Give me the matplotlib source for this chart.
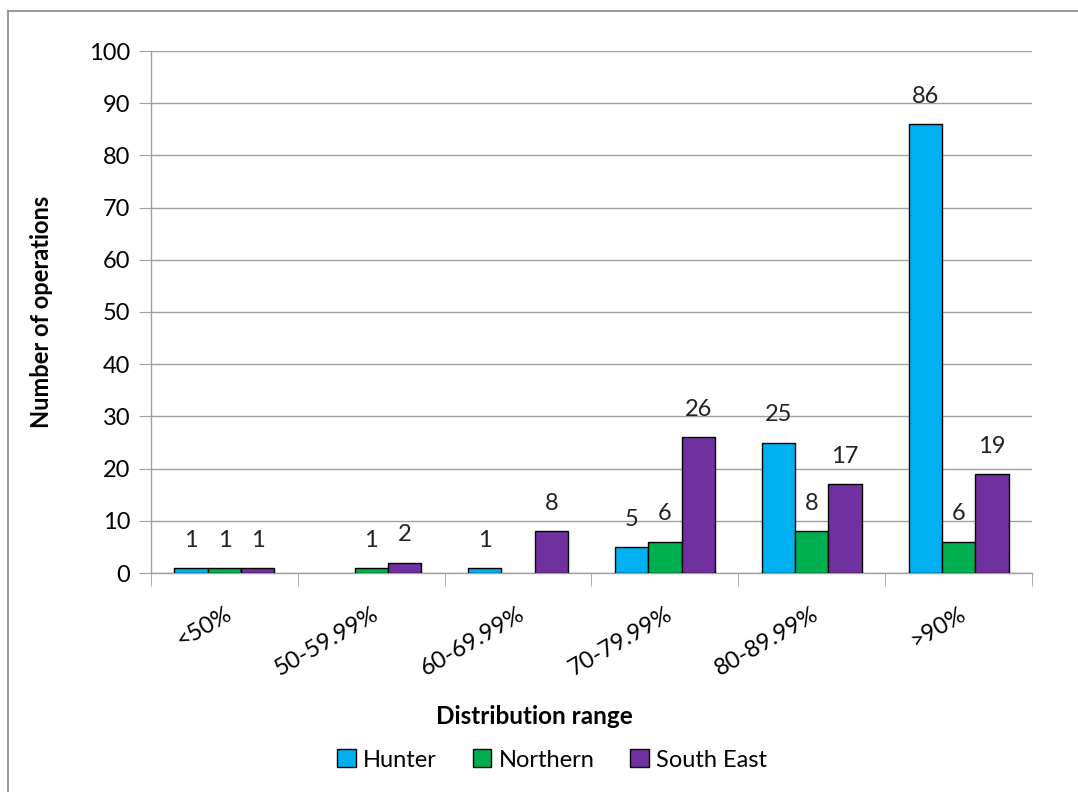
import matplotlib
matplotlib.use("Agg")
import matplotlib.pyplot as plt
import numpy as np

categories = ["<50%", "50-59.99%", "60-69.99%", "70-79.99%", "80-89.99%", ">90%"]
series_names = ["Hunter", "Northern", "South East"]
hunter = [1, 0, 1, 5, 25, 86]
northern = [1, 1, 0, 6, 8, 6]
south_east = [1, 2, 8, 26, 17, 19]
colors = ["#00B0F0", "#00B050", "#7030A0"]

plt.rcParams["font.family"] = ["Lato", "DejaVu Sans"]

fig = plt.figure(figsize=(10.78, 7.92), dpi=100)
ax = fig.add_axes([151 / 1078, 1 - 573 / 792, (1032 - 151) / 1078, (573 - 51) / 792])

x = np.arange(len(categories))
w = 0.227
for i, (vals, name, c) in enumerate(zip([hunter, northern, south_east], series_names, colors)):
    pos = x + (i - 1) * w
    # zero values are not drawn in the original chart
    heights = [v if v > 0 else np.nan for v in vals]
    ax.bar(pos, heights, width=w, color=c, edgecolor="black", linewidth=1.0,
           label=name, zorder=3)
    for p, v in zip(pos, vals):
        if v > 0:
            ax.text(p, v + 3.3, str(v), ha="center", va="bottom", fontsize=17,
                    color="#222222")

ax.set_xlim(-0.5, len(categories) - 0.5)
ax.set_ylim(0, 100)
ax.set_yticks(range(0, 101, 10))
ax.tick_params(axis="y", labelsize=17, length=9, color="#A0A0A0", pad=6)
ax.yaxis.grid(True, color="#A0A0A0", linewidth=1.0, zorder=0)
ax.set_axisbelow(True)

ax.set_xticks(x)
ax.set_xticklabels(categories, rotation=30, ha="right", rotation_mode="anchor",
                   fontsize=17)
ax.tick_params(axis="x", length=0, pad=22)
ax.set_xticks(np.arange(-0.5, len(categories)), minor=True)
ax.tick_params(axis="x", which="minor", length=9, color="#A0A0A0")

for s in ["top", "right"]:
    ax.spines[s].set_visible(False)
for s in ["left", "bottom"]:
    ax.spines[s].set_color("#A0A0A0")
    ax.spines[s].set_linewidth(1.0)

ax.set_ylabel("Number of operations", fontsize=17, fontweight="bold", labelpad=26)
fig.text(534 / 1078, 1 - 716 / 792, "Distribution range", ha="center", va="center",
         fontsize=17.5, fontweight="bold")

fig.legend(loc="center", bbox_to_anchor=(552 / 1078, 1 - 760 / 792), ncol=3,
           frameon=False, fontsize=17, handlelength=0.8, handleheight=0.8,
           handletextpad=0.3, columnspacing=1.5)

# outer chart frame (top and left visible)
fig.add_artist(plt.Line2D([8 / 1078, 8 / 1078], [0, 1 - 11 / 792], color="#888888",
                          linewidth=1.2, transform=fig.transFigure))
fig.add_artist(plt.Line2D([8 / 1078, 1], [1 - 11 / 792, 1 - 11 / 792], color="#888888",
                          linewidth=1.2, transform=fig.transFigure))

fig.savefig("out.png", dpi=100, facecolor="white")
